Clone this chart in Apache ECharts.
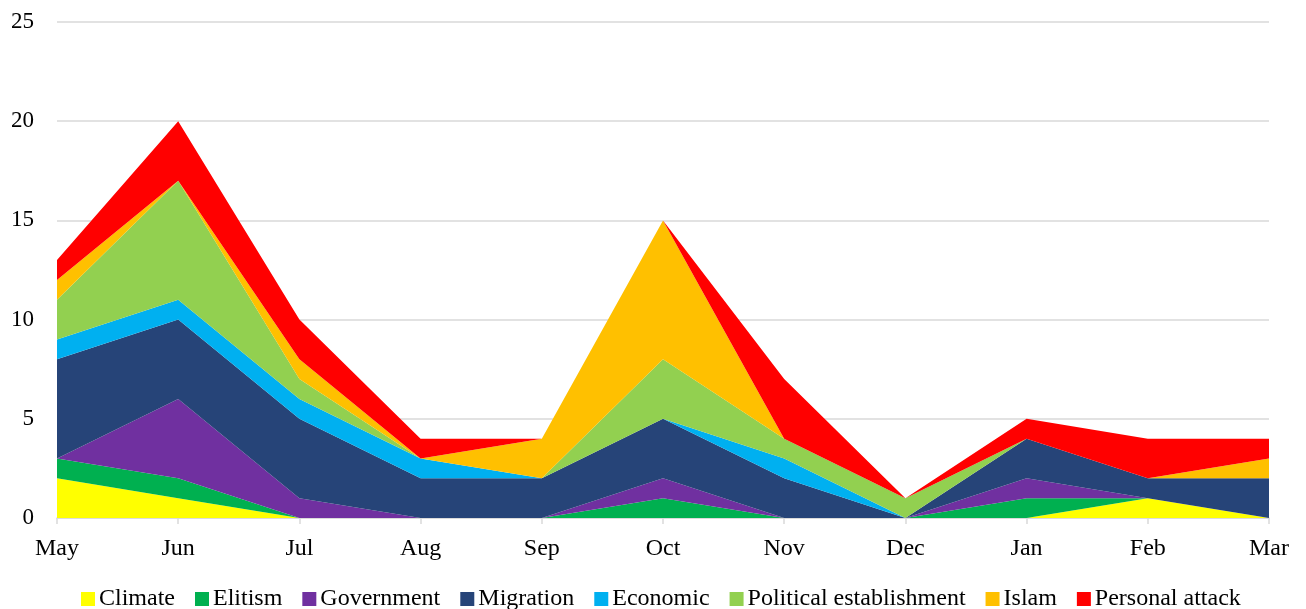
<!DOCTYPE html>
<html><head><meta charset="utf-8">
<script src="https://cdn.jsdelivr.net/npm/echarts@6/dist/echarts.min.js"></script>
<style>html,body{margin:0;padding:0;background:#fff}#c{width:1306px;height:609px}</style>
</head><body><div id="c"></div>
<script>
const months = ['May','Jun','Jul','Aug','Sep','Oct','Nov','Dec','Jan','Feb','Mar'];
const climate = [2,1,0,0,0,0,0,0,0,1,0];
const elitism = [1,1,0,0,0,1,0,0,1,0,0];
const government = [0,4,1,0,0,1,0,0,1,0,0];
const migration = [5,4,4,2,2,3,2,0,2,1,2];
const economic = [1,1,1,1,0,0,1,0,0,0,0];
const political = [2,6,1,0,0,3,1,1,0,0,0];
const islam = [1,0,1,0,2,7,0,0,0,0,1];
const personal = [1,3,2,1,0,0,3,0,1,2,1];
const yTicks = [0,5,10,15,20,25];

const seriesDefs = [
  ['Climate', climate, '#FFFF00'],
  ['Elitism', elitism, '#00B050'],
  ['Government', government, '#7030A0'],
  ['Migration', migration, '#264478'],
  ['Economic', economic, '#00B0F0'],
  ['Political establishment', political, '#92D050'],
  ['Islam', islam, '#FFC000'],
  ['Personal attack', personal, '#FF0000']
];
const font = '"Liberation Serif","Times New Roman",serif';
const chart = echarts.init(document.getElementById('c'), null, {renderer:'canvas'});
chart.setOption({
  animation:false,
  color: seriesDefs.map(s=>s[2]),
  grid:{left:57,right:37,top:22,bottom:91,containLabel:false},
  legend:{
    top:582, left:76,
    itemWidth:14, itemHeight:14, itemGap:20, icon:'rect',
    textStyle:{fontFamily:font,fontSize:24,color:'#000',padding:[0,0,0,-1]},
    data: seriesDefs.map(s=>s[0])
  },
  xAxis:{
    type:'category', boundaryGap:false, data:months,
    axisLine:{lineStyle:{color:'#d9d9d9',width:1.5}},
    axisTick:{show:true,alignWithLabel:true,length:6,lineStyle:{color:'#d9d9d9',width:1.5}},
    axisLabel:{fontFamily:font,fontSize:24,color:'#000',margin:19},
    splitLine:{show:false}
  },
  yAxis:{
    type:'value', min:yTicks[0], max:yTicks[yTicks.length-1], interval:5,
    axisLine:{show:false}, axisTick:{show:false},
    axisLabel:{fontFamily:font,fontSize:23,color:'#000',margin:23},
    splitLine:{lineStyle:{color:'#d9d9d9',width:1.5}}
  },
  series: seriesDefs.map(s=>({
    name:s[0], type:'line', stack:'total', data:s[1],
    symbol:'none', showSymbol:false,
    lineStyle:{width:0}, areaStyle:{color:s[2],opacity:1},
    itemStyle:{color:s[2]}
  }))
});
</script></body></html>
